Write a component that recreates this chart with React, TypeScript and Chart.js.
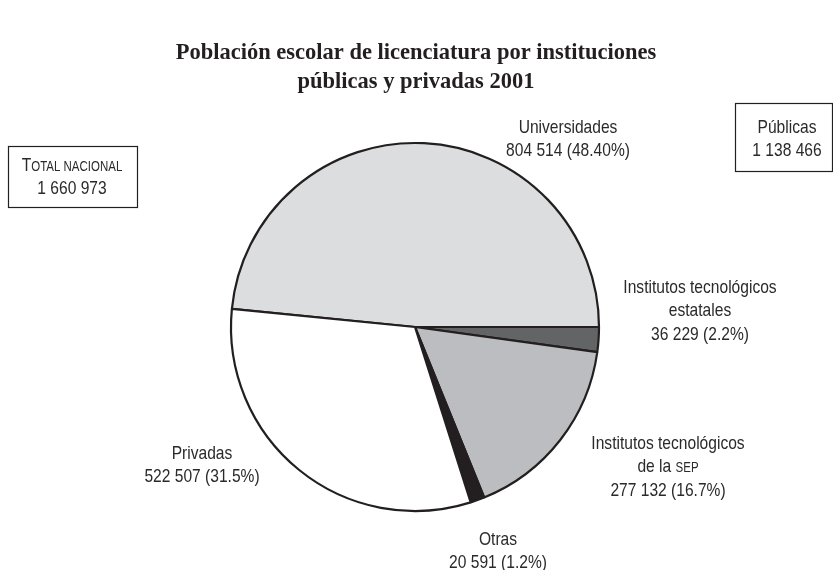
import React, { useEffect, useRef } from "react";
import { Chart, registerables } from "chart.js";

Chart.register(...registerables);

// ---- data ----
const titleLines = [
  "Población escolar de licenciatura por instituciones",
  "públicas y privadas 2001",
];
const categories = [
  "Universidades",
  "Institutos tecnológicos estatales",
  "Institutos tecnológicos de la SEP",
  "Otras",
  "Privadas",
];
const values = [804514, 36229, 277132, 20591, 522507];
const percentLabels = ["48.40%", "2.2%", "16.7%", "1.2%", "31.5%"];
// label name lines; text after "^" is drawn in small caps
const nameLines: string[][] = [
  ["Universidades"],
  ["Institutos tecnológicos", "estatales"],
  ["Institutos tecnológicos", "de la ^SEP"],
  ["Otras"],
  ["Privadas"],
];
const totalLabel = "T^OTAL NACIONAL";
const publicLabel = "Públicas";

// ---- styles / layout ----
const sliceColors = ["#dcdddf", "#636466", "#bcbdc0", "#231f20", "#ffffff"];
const labelPos = [
  { x: 568, y: 127 },
  { x: 700, y: 287 },
  { x: 668, y: 443 },
  { x: 498, y: 539 },
  { x: 202, y: 453 },
];
const W = 833;
const H = 570;
const TEXT = "#2a2a2a";
const FONT_SIZE = 19;
const SX = 0.82;
const LINE = 23.3;

const fmt = (n: number) => n.toString().replace(/\B(?=(\d{3})+(?!\d))/g, " ");

function drawSegments(ctx: CanvasRenderingContext2D, text: string, cx: number, cy: number) {
  const parts: { t: string; small: boolean }[] = [];
  const idx = text.indexOf("^");
  if (idx >= 0) {
    parts.push({ t: text.slice(0, idx), small: false });
    parts.push({ t: text.slice(idx + 1), small: true });
  } else parts.push({ t: text, small: false });
  const fontFor = (small: boolean) =>
    `${small ? Math.round(FONT_SIZE * 0.74) : FONT_SIZE}px 'Liberation Sans', Arial, sans-serif`;
  let total = 0;
  const widths = parts.map((p) => {
    ctx.font = fontFor(p.small);
    const w = ctx.measureText(p.t).width;
    total += w;
    return w;
  });
  ctx.save();
  ctx.translate(cx, cy);
  ctx.scale(SX, 1);
  ctx.textAlign = "left";
  ctx.textBaseline = "alphabetic";
  ctx.fillStyle = TEXT;
  let x = -total / 2;
  parts.forEach((p, i) => {
    ctx.font = fontFor(p.small);
    ctx.fillText(p.t, x, 0);
    x += widths[i];
  });
  ctx.restore();
}

const labelsPlugin = {
  id: "labelsPlugin",
  afterDraw(chart: any) {
    const ctx: CanvasRenderingContext2D = chart.ctx;
    const total = values.reduce((a, b) => a + b, 0);
    const publicTotal = total - values[values.length - 1];
    const base = 6;
    // title
    ctx.save();
    ctx.fillStyle = "#231f20";
    ctx.textAlign = "center";
    ctx.textBaseline = "alphabetic";
    ctx.font = "bold 22.5px 'Liberation Serif', 'Times New Roman', serif";
    titleLines.forEach((t, i) => ctx.fillText(t, 416, 59 + i * 29));
    ctx.restore();
    // slice labels
    categories.forEach((_, i) => {
      const lines = [...nameLines[i], `${fmt(values[i])} (${percentLabels[i]})`];
      lines.forEach((l, j) => drawSegments(ctx, l, labelPos[i].x, labelPos[i].y + j * LINE + base));
    });
    // boxes
    ctx.save();
    ctx.strokeStyle = "#231f20";
    ctx.lineWidth = 1.2;
    ctx.strokeRect(8.5, 146.5, 129, 61);
    ctx.strokeRect(735.5, 103.5, 97, 68);
    ctx.restore();
    drawSegments(ctx, totalLabel, 72, 165 + base);
    drawSegments(ctx, fmt(total), 72, 165 + LINE + base);
    drawSegments(ctx, publicLabel, 787, 127 + base);
    drawSegments(ctx, fmt(publicTotal), 787, 127 + LINE + base);
  },
};

export default function App() {
  const ref = useRef<HTMLCanvasElement>(null);
  useEffect(() => {
    if (!ref.current) return;
    const total = values.reduce((a, b) => a + b, 0);
    const rotation = 450 - (360 * values[0]) / total;
    const chart = new Chart(ref.current, {
      type: "pie",
      data: {
        labels: categories,
        datasets: [
          {
            data: values,
            backgroundColor: sliceColors,
            borderColor: "#231f20",
            borderWidth: 2.2,
            hoverOffset: 0,
          },
        ],
      },
      options: {
        responsive: false,
        animation: false,
        rotation,
        radius: 184,
        layout: { padding: { left: 231, right: 234, top: 143, bottom: 59 } },
        plugins: { legend: { display: false }, tooltip: { enabled: false } },
        events: [],
      } as any,
      plugins: [labelsPlugin],
    });
    return () => chart.destroy();
  }, []);
  return (
    <div style={{ position: "absolute", left: 0, top: 0, width: W, height: H, background: "#fff" }}>
      <canvas ref={ref} width={W} height={H} style={{ display: "block", width: W, height: H }} />
    </div>
  );
}
